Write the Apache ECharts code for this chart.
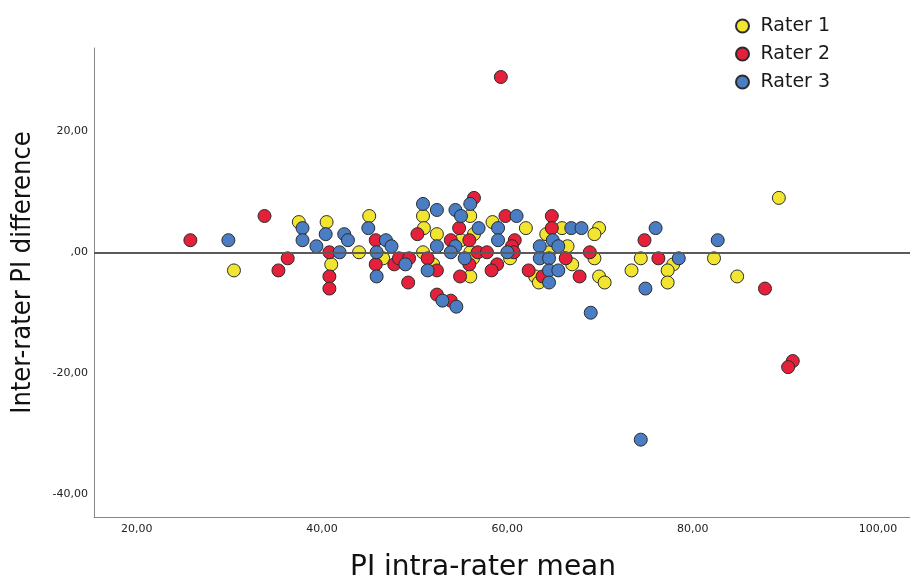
<!DOCTYPE html>
<html>
<head>
<meta charset="utf-8">
<title>Inter-rater PI difference</title>
<script src="https://cdn.jsdelivr.net/npm/echarts@6/dist/echarts.min.js"></script>
<style>
    html, body { margin: 0; padding: 0; background: #fff; }
    #chart { width: 910px; height: 587px; }
</style>
</head>
<body>
<div id="chart"></div>
<script>
// [PI intra-rater mean, inter-rater PI difference]
const rater1 = [
    [30.5, -3], [37.5, 5], [40.5, 5], [41.0, -2], [44.0, 0], [45.1, 6], [46.6, -1],
    [50.9, 6], [51.0, 4], [50.9, 0], [52.0, -2], [52.4, 3], [56.0, 6], [55.0, 2],
    [56.4, 3], [56.0, 0], [56.3, -1], [56.0, -4], [58.4, 5], [62.0, 4], [60.3, -1],
    [63.0, -4], [63.4, -5], [65.9, 4], [69.9, 4], [69.4, 3], [64.2, 3], [66.5, 1],
    [64.5, 0], [69.4, -1], [67.0, -2], [69.9, -4], [70.5, -5], [74.4, -1], [77.9, -2],
    [77.3, -3], [73.4, -3], [77.3, -5], [82.3, -1], [84.8, -4], [89.3, 9]
];
const rater2 = [
    [25.8, 2], [33.8, 6], [35.3, -3], [36.3, -1], [40.8, 0], [40.8, -4], [40.8, -6],
    [45.8, 2], [45.8, -2], [47.8, -2], [48.3, -1], [49.4, -1], [49.3, -5], [50.3, 3],
    [51.4, -1], [52.4, -3], [52.4, -7], [53.9, -8], [56.4, 9], [54.8, 4], [53.9, 2],
    [55.9, 2], [55.9, -2], [56.8, 0], [57.8, 0], [54.9, -4], [58.9, -2], [58.3, -3],
    [59.8, 6], [60.8, 2], [60.5, 1], [60.7, 0], [62.3, -3], [64.8, 6], [64.8, 4],
    [66.3, -1], [68.9, 0], [63.8, -4], [67.8, -4], [74.8, 2], [76.3, -1], [87.8, -6],
    [90.8, -18], [90.3, -19], [59.3, 29]
];
const rater3 = [
    [29.9, 2], [37.9, 4], [37.9, 2], [40.4, 3], [39.4, 1], [41.9, 0], [42.4, 3],
    [42.8, 2], [45.0, 4], [46.9, 2], [47.5, 1], [45.9, 0], [45.9, -4], [49.0, -2],
    [50.9, 8], [51.4, -3], [52.4, 7], [52.4, 1], [53.0, -8], [54.5, -9], [54.4, 7],
    [55.0, 6], [56.0, 8], [54.4, 1], [53.9, 0], [56.9, 4], [55.4, -1], [61.0, 6],
    [59.0, 4], [59.0, 2], [60.0, 0], [66.9, 4], [68.0, 4], [64.9, 2], [63.5, 1],
    [65.5, 1], [63.5, -1], [64.5, -1], [64.5, -3], [65.5, -3], [64.5, -5], [69.0, -10],
    [76.0, 4], [78.5, -1], [74.9, -6], [82.7, 2], [74.4, -31]
];
const raterNames = ['Rater 1', 'Rater 2', 'Rater 3'];
const raterColors = ['#f2e530', '#e4203b', '#4a7dc4'];
const xTicks = [20, 40, 60, 80, 100];
const yTicks = [20, 0, -20, -40];

function fmt(v) {
    // SPSS style: comma decimals, no leading zero
    if (v === 0) return ',00';
    return v.toFixed(2).replace('.', ',');
}

const chart = echarts.init(document.getElementById('chart'));

const pointSeries = [rater1, rater2, rater3].map(function (d, i) {
    return {
        name: raterNames[i],
        type: 'scatter',
        data: d,
        symbol: 'circle',
        symbolSize: 13,
        itemStyle: {
            color: raterColors[i],
            borderColor: '#2b2b2b',
            borderWidth: 1,
            opacity: 1
        },
        emphasis: { disabled: true }
    };
});

// zero reference line, drawn above the points
pointSeries.push({
    name: 'ref',
    type: 'scatter',
    data: [],
    z: 10,
    silent: true,
    markLine: {
        silent: true,
        symbol: 'none',
        label: { show: false },
        lineStyle: { color: '#5a5a5a', width: 2, type: 'solid' },
        data: [{ yAxis: 0 }]
    }
});

const option = {
    animation: false,
    grid: { left: 94, top: 48, right: 0, bottom: 62 },
    legend: {
        data: raterNames,
        orient: 'vertical',
        left: 730,
        top: 11,
        itemWidth: 26,
        itemHeight: 13,
        itemGap: 8,
        icon: 'circle',
        textStyle: { fontFamily: 'DejaVu Sans', fontSize: 19, color: '#1a1a1a', lineHeight: 20 }
    },
    xAxis: {
        type: 'value',
        min: 15.4,
        max: 103.45,
        name: 'PI intra-rater mean',
        nameLocation: 'middle',
        nameGap: 37,
        nameTextStyle: { fontFamily: 'DejaVu Sans', fontSize: 28, color: '#111', padding: [0, 38, 0, 0] },
        axisLine: { show: true, onZero: false, lineStyle: { color: '#888', width: 1 } },
        axisTick: { show: false },
        splitLine: { show: false },
        axisLabel: {
            customValues: xTicks,
            formatter: fmt,
            margin: 7,
            fontFamily: 'DejaVu Sans',
            fontSize: 11,
            color: '#222'
        }
    },
    yAxis: {
        type: 'value',
        min: -43.8,
        max: 33.8,
        name: 'Inter-rater PI difference',
        nameLocation: 'middle',
        nameGap: 58,
        nameTextStyle: { fontFamily: 'DejaVu Sans Condensed', fontSize: 27, color: '#111', padding: [0, 0, 0, 20] },
        axisLine: { show: true, onZero: false, lineStyle: { color: '#888', width: 1 } },
        axisTick: { show: false },
        splitLine: { show: false },
        axisLabel: {
            customValues: yTicks,
            formatter: fmt,
            margin: 6,
            fontFamily: 'DejaVu Sans',
            fontSize: 11,
            color: '#222'
        }
    },
    series: pointSeries
};

chart.setOption(option);
</script>
</body>
</html>
